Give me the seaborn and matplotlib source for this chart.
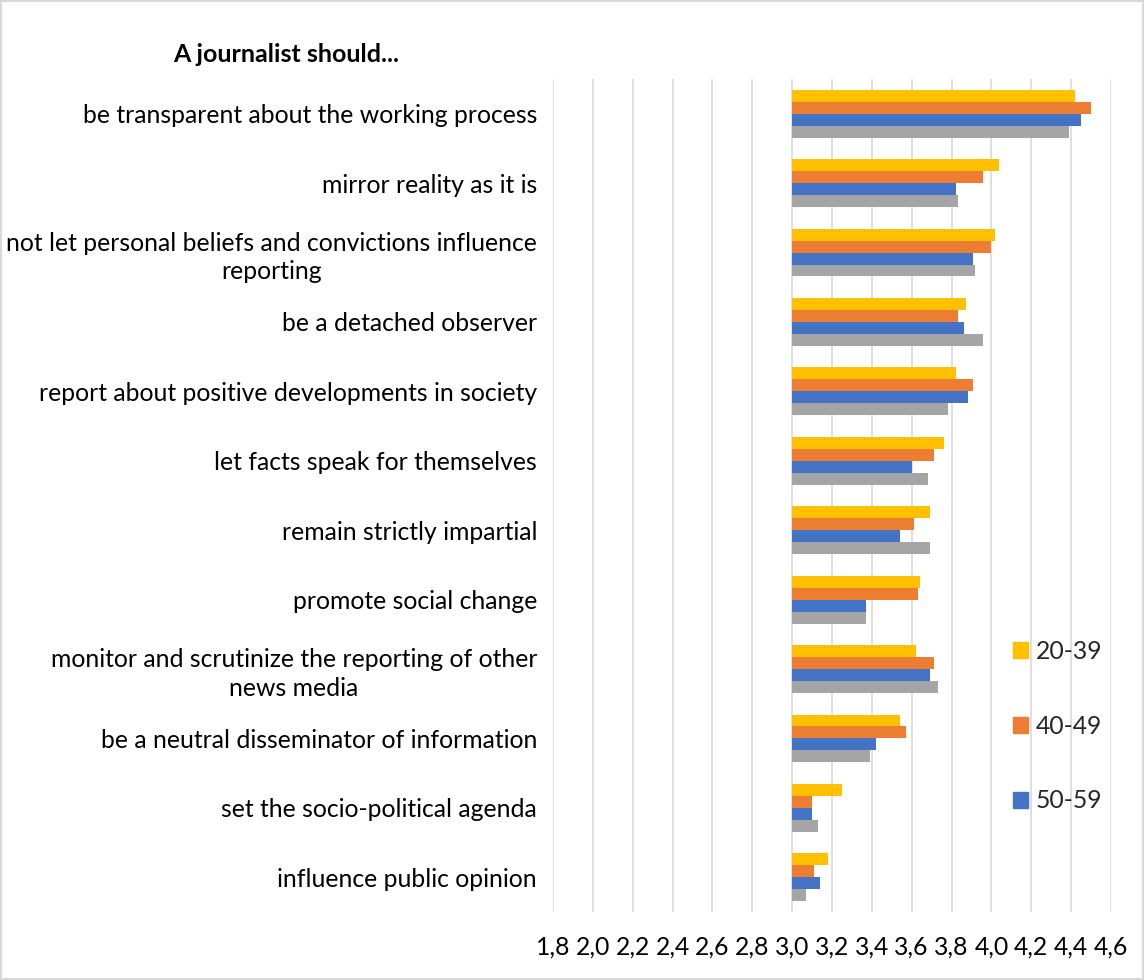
import matplotlib
matplotlib.use("Agg")
import matplotlib.pyplot as plt
import matplotlib.patches as mpatches
import seaborn as sns
import pandas as pd
import numpy as np

categories = [
    "be transparent about the working process",
    "mirror reality as it is",
    "not let personal beliefs and convictions influence\nreporting",
    "be a detached observer",
    "report about positive developments in society",
    "let facts speak for themselves",
    "remain strictly impartial",
    "promote social change",
    "monitor and scrutinize the reporting of other\nnews media",
    "be a neutral disseminator of information",
    "set the socio-political agenda",
    "influence public opinion",
]
age_20_39 = [4.42, 4.04, 4.02, 3.87, 3.82, 3.76, 3.69, 3.64, 3.62, 3.54, 3.25, 3.18]
age_40_49 = [4.50, 3.96, 4.00, 3.83, 3.91, 3.71, 3.61, 3.63, 3.71, 3.57, 3.10, 3.11]
age_50_59 = [4.45, 3.82, 3.91, 3.86, 3.88, 3.60, 3.54, 3.37, 3.69, 3.42, 3.10, 3.14]
age_60_plus = [4.39, 3.83, 3.92, 3.96, 3.78, 3.68, 3.69, 3.37, 3.73, 3.39, 3.13, 3.07]
groups = ["20-39", "40-49", "50-59", "60+"]
colors = ["#FFC000", "#ED7D31", "#4472C4", "#A5A5A5"]
x_ticks = [1.8, 2.0, 2.2, 2.4, 2.6, 2.8, 3.0, 3.2, 3.4, 3.6, 3.8, 4.0, 4.2, 4.4, 4.6]
title = "A journalist should..."
origin = 3.0

rows = []
for g, vals in zip(groups, [age_20_39, age_40_49, age_50_59, age_60_plus]):
    for c, v in zip(categories, vals):
        rows.append({"category": c, "group": g, "value": v})
df = pd.DataFrame(rows)

sns.set_theme(style="white")
plt.rcParams["font.family"] = ["Lato", "DejaVu Sans"]

FS = 17.8

fig = plt.figure(figsize=(11.44, 9.8), dpi=100)
ax = fig.add_axes([553 / 1144, 1 - 912 / 980, (1111 - 553) / 1144, (912 - 79) / 980])

sns.barplot(data=df, y="category", x="value", hue="group", order=categories,
            hue_order=groups, palette=colors, orient="h", width=0.69,
            gap=0, saturation=1, ax=ax, legend=False, errorbar=None)

# bars grow from the axis crossing at 3.0
for p in ax.patches:
    w = p.get_width()
    p.set_x(origin)
    p.set_width(w - origin)
    p.set_linewidth(0)

ax.set_xlim(1.8, 4.6)
ax.set_ylim(len(categories) - 0.5, -0.5)
ax.set_xticks(x_ticks)
ax.set_xticklabels([f"{t:.1f}".replace(".", ",") for t in x_ticks])
ax.xaxis.grid(True, color="#d9d9d9", linewidth=1.2)
ax.yaxis.grid(False)
ax.set_axisbelow(True)
for s in ax.spines.values():
    s.set_visible(False)
ax.set_xlabel("")
ax.set_ylabel("")
ax.tick_params(axis="x", length=0, pad=17, labelsize=FS, colors="black")
ax.tick_params(axis="y", length=0, pad=11.5, labelsize=FS, colors="black")
for lbl in ax.get_yticklabels():
    lbl.set_multialignment("center")
    lbl.set_linespacing(1.3)

fig.text(286 / 1144, 1 - 55 / 980, title, ha="center", va="center",
         fontsize=18, fontweight="bold", color="black")

handles = [mpatches.Patch(color=c, label=g) for c, g in zip(colors[:3], groups[:3])]
fig.legend(handles=handles, loc="center left",
           bbox_to_anchor=(1013 / 1144, 1 - 726 / 980), frameon=False,
           fontsize=FS, labelspacing=2.1, handlelength=0.61, handleheight=0.61,
           handletextpad=0.3, borderaxespad=0, borderpad=0)

fig.patches.append(mpatches.Rectangle((0.001, 0.001), 0.998, 0.998, transform=fig.transFigure,
                                      fill=False, edgecolor="#d9d9d9", linewidth=1.5))

fig.savefig("out.png", dpi=100)
